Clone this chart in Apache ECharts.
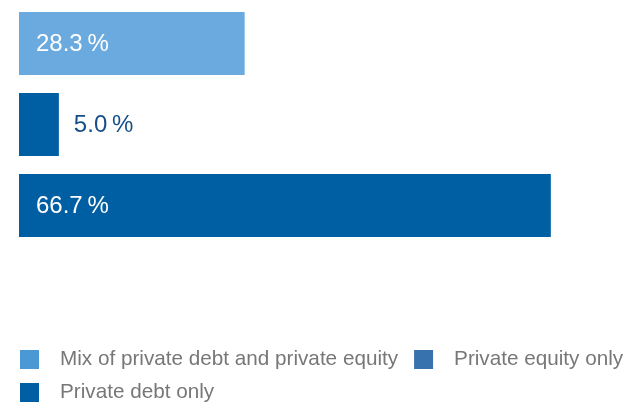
<!DOCTYPE html>
<html>
<head>
<meta charset="utf-8">
<script src="https://cdn.jsdelivr.net/npm/echarts@6/dist/echarts.min.js"></script>
<style>html,body{margin:0;padding:0;background:#fff}#c{width:636px;height:403px}</style>
</head>
<body>
<div id="c"></div>
<script>
var categories = ['Mix of private debt and private equity', 'Private equity only', 'Private debt only'];
var mixValues = [28.3, null, null];
var equityValues = [null, 5.0, null];
var debtValues = [null, null, 66.7];

var chart = echarts.init(document.getElementById('c'));
function fmt(p) { return p.value.toFixed(1) + '\u2009%'; }
var labelFont = 'Liberation Sans, Arial, Helvetica, sans-serif';
var legendText = { fontSize: 20.7, color: '#777777', fontFamily: labelFont, padding: [0, 0, 0, 16] };
chart.setOption({
  animation: false,
  grid: { left: 19, right: 19, top: 3, height: 243 },
  xAxis: { type: 'value', min: 0, max: 75, show: false },
  yAxis: { type: 'category', data: categories, inverse: true, show: false },
  legend: [
    {
      data: [
        { name: categories[0], itemStyle: { color: '#4a98d4' } },
        { name: categories[1], itemStyle: { color: '#3872ae' } }
      ],
      left: 20, top: 349, padding: 0, orient: 'horizontal',
      icon: 'rect', itemWidth: 19, itemHeight: 19, itemGap: 16,
      textStyle: legendText
    },
    {
      data: [{ name: categories[2], itemStyle: { color: '#005ea2' } }],
      left: 20, top: 382, padding: 0, orient: 'horizontal',
      icon: 'rect', itemWidth: 19, itemHeight: 19, itemGap: 16,
      textStyle: legendText
    }
  ],
  series: [
    {
      name: categories[0], type: 'bar', stack: 'all', barWidth: 63, data: mixValues,
      itemStyle: { color: '#6aaade' },
      label: { show: true, position: 'insideLeft', distance: 17, offset: [0, 1], formatter: fmt, color: '#ffffff', fontSize: 24, fontFamily: labelFont }
    },
    {
      name: categories[1], type: 'bar', stack: 'all', barWidth: 63, data: equityValues,
      itemStyle: { color: '#005fa3' },
      label: { show: true, position: 'right', distance: 15, offset: [0, 1], formatter: fmt, color: '#174f88', fontSize: 24, fontFamily: labelFont }
    },
    {
      name: categories[2], type: 'bar', stack: 'all', barWidth: 63, data: debtValues,
      itemStyle: { color: '#005fa3' },
      label: { show: true, position: 'insideLeft', distance: 17, offset: [0, 1], formatter: fmt, color: '#ffffff', fontSize: 24, fontFamily: labelFont }
    }
  ]
});
</script>
</body>
</html>
